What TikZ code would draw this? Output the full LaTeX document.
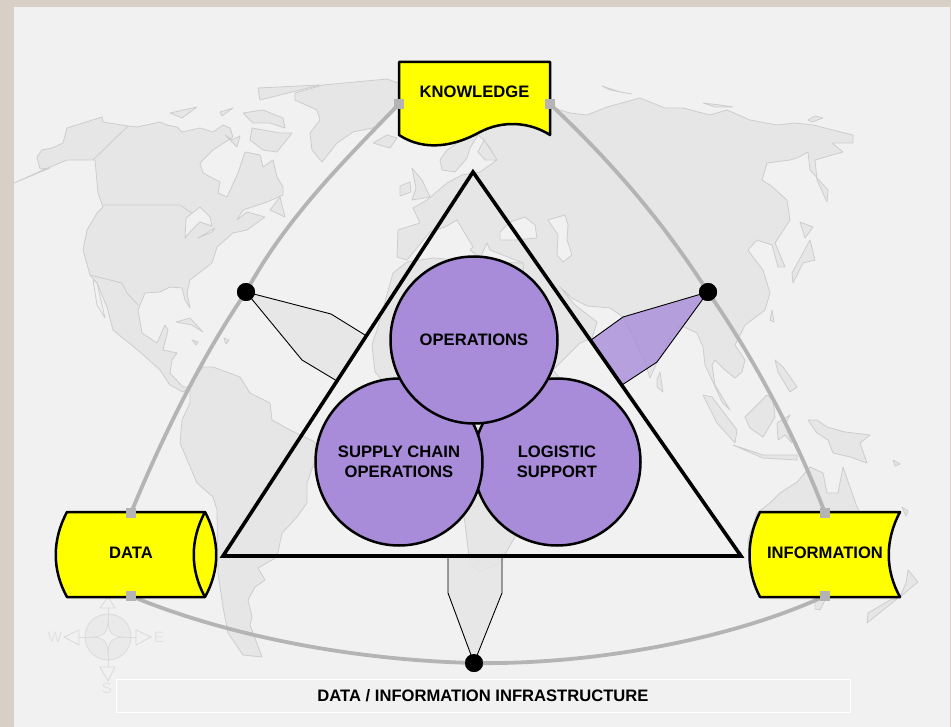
\documentclass[tikz,border=0pt]{standalone}
\usepackage{fontspec}
\setmainfont{Liberation Sans}
\definecolor{frame}{HTML}{D8CFC6}
\definecolor{panel}{HTML}{F1F1F1}
\definecolor{landc}{HTML}{E6E6E6}
\definecolor{coast}{HTML}{CDCDCD}
\definecolor{purp}{HTML}{A88CD9}
\definecolor{arcg}{HTML}{B4B4B4}
\definecolor{compass}{HTML}{DCDCDC}
\definecolor{yel}{RGB}{255,255,0}
\tikzset{
 land/.style={fill=landc,draw=coast,line width=0.8pt,line join=round},
 sea/.style={fill=panel,draw=coast,line width=0.8pt,line join=round},
 border/.style={draw=coast,line width=0.8pt},
 yellowshape/.style={fill=yel,draw=black,line width=2.5pt,line join=round},
 lbl/.style={font=\bfseries\fontsize{16.6}{20}\selectfont,align=center,inner sep=0pt,text=black},
 bigcircle/.style={circle,draw=black,fill=purp,line width=2.5pt,minimum size=167pt,inner sep=0pt,font=\bfseries\fontsize{16.6}{20}\selectfont,align=center},
 port/.style={rectangle,fill=arcg,minimum size=10pt,inner sep=0pt},
 dotn/.style={circle,fill=black,minimum size=18pt,inner sep=0pt},
 arcline/.style={draw=arcg,line width=3.8pt},
 wedge/.style={draw=black,line width=0.9pt,line join=round,fill=landc,fill opacity=0.85},
 wedgep/.style={draw=black,line width=0.9pt,line join=round,fill=purp,fill opacity=0.8},
 comp/.style={draw=compass,line width=0.9pt,fill=landc,fill opacity=0.6},
 compt/.style={text=compass!70!panel,font=\fontsize{15}{18}\selectfont,inner sep=0pt},
}
\begin{document}
\begin{tikzpicture}[x=1pt,y=-1pt]
\useasboundingbox (0,0) rectangle (951,727);
\fill[frame] (0,0) rectangle (951,727);
\fill[panel] (14,7) rectangle (949.5,727);
% --- map ---
% North America
\draw[land] (14,183) -- (50,168) -- (40,169) -- (37,157) -- (42,150) -- (52,148) -- (63,143) -- (67,128) -- (83,123) -- (102,117) -- (103,122) -- (128,126) -- (137,127) -- (160,122) -- (167,125) -- (177,127) -- (182,132) -- (200,128) -- (213,132) -- (223,125) -- (230,128) -- (233,137) -- (213,150) -- (200,163) -- (203,173) -- (220,182) -- (218,193) -- (227,197) -- (238,173) -- (245,152) -- (260,155) -- (263,167) -- (273,160) -- (277,177) -- (283,187) -- (283,195) -- (267,202) -- (243,210) -- (237,220) -- (247,212) -- (265,217) -- (247,230) -- (233,233) -- (217,247) -- (212,263) -- (190,280) -- (187,293) -- (190,308) -- (185,300) -- (182,288) -- (170,287) -- (160,292) -- (145,293) -- (138,310) -- (142,333) -- (157,343) -- (165,325) -- (168,330) -- (163,350) -- (177,353) -- (172,360) -- (170,373) -- (183,387) -- (190,387) -- (183,392) -- (170,385) -- (160,370) -- (140,352) -- (113,330) -- (107,307) -- (97,283) -- (90,275) -- (83,250) -- (87,230) -- (97,213) -- (103,207) -- (98,193) -- (95,160) -- (83,160) -- (67,160) -- (50,167) -- cycle;
\draw[border] (128,126) -- (93,160) (103,205) -- (180,205) -- (195,215) (90,275) -- (122,283) -- (127,293) -- (138,305);
\draw[sea] (186,218) -- (200,207) -- (210,217) -- (212,226) -- (200,222) -- (190,232) -- (185,238) -- (186,218);
\draw[sea] (198,238) -- (215,228) -- (212,232) -- cycle;
\draw[sea] (93,280) -- (97,283) -- (105,318) -- (97,305) -- cycle;
% Arctic islands, Greenland, Iceland, Newfoundland
\draw[land] (323,85) -- (387,79) -- (398,83) -- (398,107) -- (377,127) -- (353,132) -- (337,143) -- (322,162) -- (312,150) -- (310,133) -- (320,120) -- (317,110) -- (295,100) -- (295,93) -- cycle;
\draw[land] (250,140) -- (252,128) -- (280,133) -- (292,133) -- (277,152) -- (263,150) -- cycle;
\draw[land] (258,88) -- (320,85) -- (280,95) -- (260,100) -- cycle;
\draw[land] (170,113) -- (197,107) -- (182,118) -- cycle;
\draw[land] (243,113) -- (263,110) -- (283,118) -- (285,128) -- (270,123) -- (253,123) -- cycle;
\draw[land] (220,112) -- (233,108) -- (222,116) -- cycle;
\draw[land] (225,135) -- (237,147) -- (240,136) -- (232,140) -- cycle;
\draw[land] (270,210) -- (280,197) -- (285,217) -- cycle;
\draw[land] (373,143) -- (387,135) -- (397,138) -- (390,148) -- cycle;
\draw[land] (176,322) -- (190,318) -- (203,332) -- (192,325) -- cycle;
\draw[land] (192,340) -- (198,342) -- (196,345) -- cycle;
\draw[land] (224,338) -- (229,340) -- (226,344) -- cycle;
% South America
\draw[land] (203,367) -- (213,367) -- (240,377) -- (250,393) -- (270,403) -- (272,420) -- (290,430) -- (315,442) -- (315,460) -- (307,483) -- (307,503) -- (297,517) -- (282,533) -- (277,557) -- (258,568) -- (265,580) -- (255,587) -- (248,600) -- (252,617) -- (250,625) -- (262,657) -- (243,655) -- (228,633) -- (223,607) -- (218,573) -- (217,510) -- (213,497) -- (197,483) -- (180,443) -- (182,420) -- (190,403) -- (190,387) -- (195,377) -- cycle;
% Eurasia
\draw[land] (398,230) -- (420,223) -- (413,208) -- (427,200) -- (447,183) -- (462,175) -- (480,172) -- (497,160) -- (485,160) -- (478,152) -- (484,140) -- (478,135) -- (470,148) -- (467,158) -- (455,172) -- (442,170) -- (440,160) -- (447,150) -- (470,135) -- (500,125) -- (550,107) -- (570,113) -- (587,115) -- (607,107) -- (640,98) -- (650,102) -- (665,108) -- (683,108) -- (710,115) -- (727,110) -- (750,120) -- (777,125) -- (795,123) -- (813,125) -- (853,135) -- (853,143) -- (832,143) -- (843,152) -- (815,160) -- (817,180) -- (827,202) -- (828,190) -- (810,170) -- (808,152) -- (797,158) -- (790,160) -- (767,163) -- (762,180) -- (770,185) -- (787,200) -- (790,220) -- (775,243) -- (785,267) -- (778,267) -- (772,245) -- (757,240) -- (748,250) -- (753,257) -- (763,270) -- (770,293) -- (765,310) -- (745,325) -- (740,335) -- (735,345) -- (745,360) -- (742,372) -- (735,378) -- (725,370) -- (715,360) -- (712,365) -- (715,385) -- (730,410) -- (722,402) -- (712,380) -- (705,365) -- (703,347) -- (697,333) -- (680,325) -- (672,335) -- (658,360) -- (650,378) -- (645,362) -- (635,340) -- (623,317) -- (610,308) -- (587,306) -- (572,298) -- (560,287) -- (575,305) -- (597,322) -- (592,338) -- (580,343) -- (563,360) -- (553,370) -- (540,340) -- (525,310) -- (523,263) -- (490,250) -- (487,243) -- (480,258) -- (470,250) -- (473,247) -- (457,220) -- (445,227) -- (430,232) -- (425,238) -- (407,260) -- (397,257) -- cycle;
\draw[sea] (500,232) -- (510,222) -- (525,217) -- (535,225) -- (537,238) -- (515,240) -- (500,240) -- cycle;
\draw[sea] (548,220) -- (565,215) -- (568,225) -- (567,240) -- (572,255) -- (563,262) -- (557,255) -- (558,235) -- cycle;
\draw[sea] (497,160) -- (490,148) -- (484,140) -- (496,158) -- cycle;
% Africa
\draw[land] (407,262) -- (393,273) -- (377,330) -- (372,345) -- (375,372) -- (395,395) -- (430,405) -- (445,410) -- (465,523) -- (470,565) -- (480,572) -- (500,563) -- (515,537) -- (530,500) -- (560,420) -- (570,390) -- (553,370) -- (525,310) -- (523,263) -- (480,262) -- (433,258) -- cycle;
% Islands of Europe and Asia
\draw[land] (412,168) -- (422,180) -- (430,197) -- (412,200) -- (416,188) -- cycle;
\draw[land] (400,186) -- (410,182) -- (411,192) -- (400,196) -- cycle;
\draw[land] (602,86) -- (620,92) -- (632,94) -- (610,90) -- cycle;
\draw[land] (703,103) -- (720,105) -- (733,107) -- (715,107) -- cycle;
\draw[land] (808,120) -- (815,116) -- (823,118) -- (812,122) -- cycle;
\draw[land] (792,273) -- (810,240) -- (815,260) -- (803,263) -- (793,283) -- cycle;
\draw[land] (800,222) -- (813,227) -- (805,238) -- cycle;
\draw[land] (772,310) -- (774,322) -- (770,320) -- cycle;
\draw[land] (657,387) -- (663,392) -- (660,372) -- (657,380) -- cycle;
\draw[land] (775,360) -- (783,367) -- (797,387) -- (790,392) -- (778,372) -- cycle;
\draw[land] (745,417) -- (767,395) -- (773,400) -- (775,417) -- (763,437) -- (750,428) -- cycle;
\draw[land] (703,395) -- (712,397) -- (737,430) -- (735,443) -- (717,423) -- cycle;
\draw[land] (733,445) -- (763,455) -- (797,455) -- (797,460) -- (763,458) -- cycle;
\draw[land] (777,423) -- (790,415) -- (785,425) -- (792,443) -- (785,435) -- (778,440) -- cycle;
\draw[land] (808,420) -- (817,420) -- (827,427) -- (845,432) -- (870,435) -- (860,443) -- (867,463) -- (850,457) -- (833,453) -- (828,440) -- (817,433) -- cycle;
\draw[land] (757,513) -- (770,503) -- (780,493) -- (797,482) -- (810,467) -- (823,473) -- (827,493) -- (838,493) -- (843,467) -- (857,507) -- (870,530) -- (860,570) -- (815,590) -- (750,570) -- (748,540) -- cycle;
\draw[land] (815,597) -- (825,600) -- (820,610) -- (815,609) -- cycle;
\draw[land] (908,570) -- (918,582) -- (900,597) -- (906,583) -- cycle;
\draw[land] (898,598) -- (867,623) -- (868,613) -- (890,600) -- cycle;
\draw[land] (902,507) -- (908,511) -- (906,516) -- cycle;
\draw[land] (893,460) -- (900,464) -- (895,466) -- cycle;
% compass
\node[circle,comp,minimum size=46pt,inner sep=0pt] (cc) at (108,637) {};
\coordinate (cn) at (108,597); \coordinate (cs) at (108,681);
\coordinate (cw) at (64,637); \coordinate (ce) at (151,637);
\draw[draw=compass,line width=0.9pt] (108,608) -- (108,667) (79,637) -- (136,637);
\draw[comp,fill=panel] (100,608) -- (cn) -- (115,608) -- cycle;
\draw[comp,fill=panel] (100,667) -- (cs) -- (115,667) -- cycle;
\draw[comp,fill=panel] (79,630) -- (cw) -- (79,645) -- cycle;
\draw[comp,fill=panel] (136,630) -- (ce) -- (136,645) -- cycle;
\draw[draw=compass,fill=panel,line width=0.9pt] (108,622) .. controls (109,633) and (112,636) .. (123,637) .. controls (112,638) and (109,641) .. (108,652) .. controls (107,641) and (104,638) .. (93,637) .. controls (104,636) and (107,633) .. (108,622) -- cycle;
\node[compt] (tw) at (55,637) {W};
\node[compt] (te) at (159,637) {E};
\node[compt] (ts) at (107,688) {S};
% label box
\node[draw=white,line width=0.8pt,minimum width=734pt,minimum height=33pt,inner sep=0pt,lbl] (infra) at (483,695.5) {DATA / INFORMATION INFRASTRUCTURE};
% nodes on arcs
\node[port] (kl) at (399,104) {};
\node[port] (kr) at (550,104) {};
\node[port] (dt) at (131,513) {};
\node[port] (db) at (131,596) {};
\node[port] (it) at (825,513) {};
\node[port] (ib) at (825,596) {};
\node[dotn] (dl) at (246,292) {};
\node[dotn] (dr) at (708,292) {};
\node[dotn] (dm) at (474,663) {};
% wedges
\path[wedge,draw=none] (dl.center) -- (331,314) -- (365,335) -- (337,381) -- (302,360) -- cycle;
\draw[wedge,fill=none] (dl.center) -- (331,314) -- (365,335) (337,381) -- (302,360) -- (dl.center);
\path[wedgep,draw=none] (dr.center) -- (623,317) -- (591,340) -- (622,385) -- (657,362) -- cycle;
\draw[wedge,fill=none] (dr.center) -- (623,317) -- (591,340) (622,385) -- (657,362) -- (dr.center);
\path[wedge,draw=none] (448,556) -- (448,593) -- (dm.center) -- (502,593) -- (502,556) -- cycle;
\draw[wedge,fill=none] (448,556) -- (448,593) -- (dm.center) -- (502,593) -- (502,556);
% arcs
\draw[arcline] (kl.center) .. controls (340,165) and (285,220) .. (dl.center);
\draw[arcline] (dl.center) .. controls (205,352) and (165,430) .. (dt.center);
\draw[arcline] (kr.center) .. controls (615,165) and (665,225) .. (dr.center);
\draw[arcline] (dr.center) .. controls (755,360) and (795,435) .. (it.center);
\draw[arcline] (db.center) .. controls (225,635) and (350,660) .. (dm.center);
\draw[arcline] (dm.center) .. controls (590,665) and (730,640) .. (ib.center);
% yellow shapes
\draw[yellowshape] (399,62) -- (550,62) -- (550,135) .. controls (530,122) and (503,120) .. (480,132) .. controls (455,146) and (425,152) .. (399,135) -- cycle;
\node[lbl] (know) at (474.5,92) {KNOWLEDGE};
\draw[yellowshape] (67,512) -- (205,512) .. controls (220,540) and (220,570) .. (205,597) -- (67,597) .. controls (52,570) and (52,540) .. (67,512) -- cycle;
\draw[line width=2.5pt,draw=black] (205,512) .. controls (190,540) and (190,570) .. (205,597);
\node[lbl] (data) at (131,553) {DATA};
\draw[yellowshape] (760,512) -- (900,512) .. controls (885,540) and (885,570) .. (900,597) -- (760,597) .. controls (746,570) and (746,540) .. (760,512) -- cycle;
\node[lbl] (info) at (825,553) {INFORMATION};
% redraw ports on top
\fill[arcg] (kl.south west) rectangle (kl.north east);
\fill[arcg] (kr.south west) rectangle (kr.north east);
\fill[arcg] (dt.south west) rectangle (dt.north east);
\fill[arcg] (db.south west) rectangle (db.north east);
\fill[arcg] (it.south west) rectangle (it.north east);
\fill[arcg] (ib.south west) rectangle (ib.north east);
\fill[black] (dl) circle (9);
\fill[black] (dr) circle (9);
\fill[black] (dm) circle (9);
% triangle
\draw[draw=black,line width=3.6pt,line join=miter] (473,172) -- (741,556) -- (223,556) -- cycle;
% circles
\node[bigcircle] (log) at (557,462) {LOGISTIC\\SUPPORT};
\node[bigcircle] (sup) at (399,462) {SUPPLY CHAIN\\OPERATIONS};
\node[bigcircle] (ops) at (474,340) {OPERATIONS};
\end{tikzpicture}
\end{document}
